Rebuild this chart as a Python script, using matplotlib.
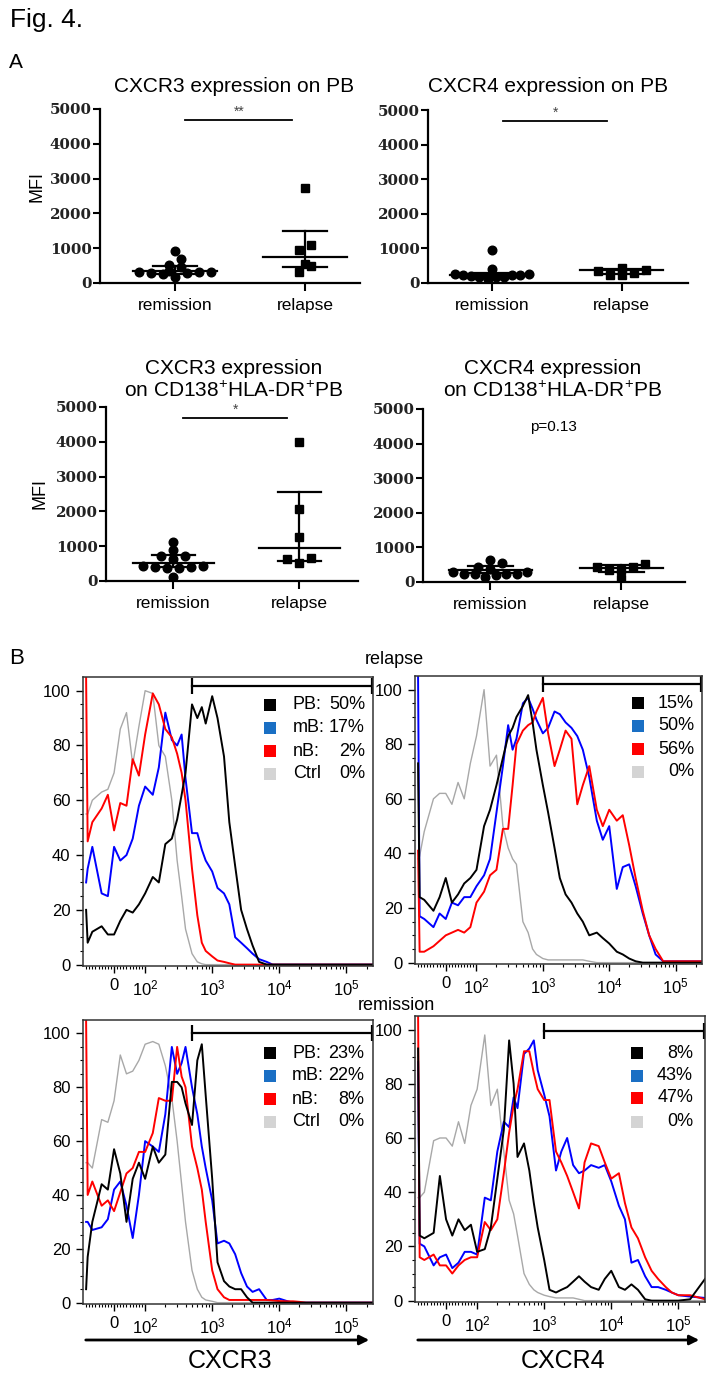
import numpy as np
import matplotlib
matplotlib.use('Agg')
import matplotlib.pyplot as plt
from matplotlib.patches import Rectangle, FancyArrowPatch

plt.rcParams['font.family'] = ['Liberation Sans', 'DejaVu Sans']
plt.rcParams['mathtext.fontset'] = 'custom'
plt.rcParams['mathtext.rm'] = 'Liberation Sans'
plt.rcParams['mathtext.it'] = 'Liberation Sans:italic'
plt.rcParams['mathtext.bf'] = 'Liberation Sans:bold'

# ---------------- Panel A data (MFI) ----------------
groups = ['remission', 'relapse']

cxcr3_pb_rem = [920, 700, 530, 450, 350, 330, 320, 310, 300, 290, 270, 175]
cxcr3_pb_rel = [2720, 1090, 960, 560, 490, 320]
cxcr4_pb_rem = [950, 400, 270, 270, 220, 220, 220, 190, 175, 175, 175, 125]
cxcr4_pb_rel = [440, 370, 350, 290, 220, 220]
cxcr3_cd_rem = [1130, 890, 720, 720, 620, 430, 430, 390, 390, 365, 365, 125]
cxcr3_cd_rel = [3990, 2060, 1275, 650, 620, 530]
cxcr4_cd_rem = [650, 550, 435, 390, 290, 290, 240, 240, 240, 240, 190, 145]
cxcr4_cd_rel = [530, 435, 435, 360, 360, 100]

# summary lines: [center, lower, upper] per group
sum_cxcr3_pb = [[346, 250, 490], [750, 460, 1500]]
sum_cxcr4_pb = [[225, 180, 300], [370, 250, 400]]
sum_cxcr3_cd = [[530, 390, 750], [960, 580, 2550]]
sum_cxcr4_cd = [[360, 250, 450], [400, 300, 480]]

sig_labels = ['**', '*', '*', 'p=0.13']

# ---------------- Panel B data (histograms, % of max) ----------------
grid = [-90, -85, -70, -40, -20, 0, 20, 40, 60, 80, 100, 130, 160, 200, 250,
        300, 350, 400, 500, 600, 700, 800, 1000, 1200, 1500, 1800, 2200, 2700,
        3300, 4000, 5000, 6500, 8000, 10000, 13000, 16000, 20000, 25000, 32000,
        40000, 50000, 65000, 80000, 100000, 150000, 250000]

# relapse, CXCR3
rel3_pb = [20, 8, 12, 14, 11, 11, 16, 20, 19, 22, 26, 32, 30, 44, 46, 53, 62, 70, 95, 90,
           94, 88, 98, 90, 76, 52, 36, 20, 13, 7, 1] + [0] * 15
rel3_mb = [30, 35, 43, 26, 25, 43, 38, 40, 46, 58, 65, 62, 72, 92, 82, 80, 84, 68, 48, 48,
           42, 38, 34, 28, 26, 22, 10, 8, 6, 4, 2, 1] + [0] * 14
rel3_nb = [105, 45, 52, 57, 62, 49, 59, 58, 75, 69, 84, 99, 95, 86, 83, 77, 70, 60, 35, 18,
           8, 5, 3, 1.5, 1, 0.5] + [0] * 20
rel3_ct = [55, 55, 60, 63, 64, 70, 86, 92, 73, 87, 100, 99, 80, 76, 60, 38, 25, 13, 4, 1,
           0.3] + [0] * 25
# relapse, CXCR4
rel4_pb = [73, 24, 23, 19, 24, 31, 22, 25, 29, 31, 34, 50, 56, 65, 75, 83, 86, 90, 94, 98,
           88, 78, 65, 55, 42, 31, 25, 22, 18, 15, 10, 11, 9, 7, 4, 3, 1.5, 0.5] + [0] * 8
rel4_mb = [105, 17, 16, 13, 18, 16, 22, 21, 24, 24, 28, 32, 38, 55, 72, 87, 78, 82, 95, 97,
           93, 89, 84, 86, 92, 91, 88, 86, 83, 78, 68, 52, 45, 50, 27, 35, 36, 28, 18, 10,
           3, 0.5, 0.5, 0.5, 0.5, 0.5]
rel4_nb = [41, 4, 4, 6, 8, 10, 11, 12, 11, 13, 22, 26, 32, 34, 49, 49, 65, 80, 85, 87,
           88, 92, 97, 84, 72, 78, 85, 82, 58, 65, 72, 56, 50, 56, 52, 54, 43, 31, 19, 10,
           5, 0.5, 0.5, 0.5, 0.5, 0.5]
rel4_ct = [38, 39, 48, 60, 62, 62, 58, 66, 60, 73, 83, 100, 72, 76, 50, 42, 38, 36, 15, 11,
           5, 3, 1.5, 1, 1, 1, 1, 1, 1, 1, 0.5] + [0] * 15
# remission, CXCR3
rem3_pb = [5, 17, 30, 44, 42, 57, 48, 30, 46, 52, 46, 58, 52, 55, 82, 82, 80, 74, 66, 90,
           96, 77, 46, 15, 8, 6, 5, 5, 2, 0] + [0] * 16
rem3_mb = [30, 30, 27, 28, 31, 42, 45, 36, 24, 40, 60, 58, 56, 70, 95, 85, 89, 95, 80, 70,
           58, 50, 38, 22, 23, 22, 18, 11, 6, 4, 5, 1, 1, 1.5, 0.6] + [0] * 11
rem3_nb = [105, 40, 45, 36, 38, 34, 41, 48, 50, 56, 56, 63, 76, 75, 75, 95, 84, 80, 58, 50,
           42, 30, 12, 5, 2, 1, 1, 1, 1, 1, 1, 1, 0.8, 0.6, 0.5, 0.5, 0.3] + [0] * 9
rem3_ct = [52, 52, 50, 68, 67, 75, 92, 85, 86, 90, 96, 97, 96, 88, 76, 60, 44, 30, 12, 5,
           2, 1, 0.5] + [0] * 23
# remission, CXCR4
rem4_pb = [93, 24, 23, 25, 46, 30, 24, 30, 26, 28, 18, 19, 27, 45, 63, 96, 80, 53, 58, 48,
           36, 27, 15, 4, 3, 4, 5, 7, 9, 7, 5, 4, 8, 11, 5, 4, 6, 4, 0.5, 0,
           0, 0, 0, 0, 0.5, 8]
rem4_mb = [88, 21, 20, 13, 16, 17, 12, 14, 18, 18, 17, 38, 37, 55, 66, 64, 75, 71, 91, 93,
           96, 85, 76, 68, 48, 55, 60, 50, 47, 48, 50, 49, 50, 44, 35, 30, 14, 15, 9, 5,
           5, 4, 3, 2, 1.5, 1]
rem4_nb = [105, 16, 15, 17, 13, 13, 10, 13, 15, 16, 16, 29, 26, 30, 47, 62, 72, 78, 92, 92,
           84, 78, 74, 74, 55, 51, 46, 40, 34, 51, 58, 57, 51, 45, 47, 36, 27, 23, 16, 11,
           8, 5, 3, 2, 2, 0.5]
rem4_ct = [38, 38, 40, 59, 60, 60, 57, 66, 58, 72, 78, 98, 72, 78, 55, 37, 32, 24, 10, 6,
           4, 3, 2, 1.5, 1, 1, 1, 1, 0.5] + [0] * 17

leg_rows = ['PB:', 'mB:', 'nB:', 'Ctrl']
pct_rel3 = ['50%', '17%', '2%', '0%']
pct_rel4 = ['15%', '50%', '56%', '0%']
pct_rem3 = ['23%', '22%', '8%', '0%']
pct_rem4 = ['8%', '43%', '47%', '0%']
gate_left = [500, 1000, 500, 1000]
gate_y = [101.7, 102, 100, 99.5]

# ---------------- figure ----------------
W, H = 713, 1378
fig = plt.figure(figsize=(W / 100, H / 100), dpi=100)


def rect(l, t, r, b):
    return [l / W, 1 - b / H, (r - l) / W, (b - t) / H]


def ftext(x, y, s, **kw):
    fig.text(x / W, 1 - y / H, s, **kw)


ftext(10, 20, 'Fig. 4.', fontsize=19, va='center', ha='left')
ftext(9, 62, 'A', fontsize=15, va='center', ha='left')
ftext(9, 658, 'B', fontsize=16, va='center', ha='left')


def row_offsets(vals, ppy, ppx, dcol=12.0, drow=6.0, maxspan=74.0):
    """GraphPad-like scatter: points with close values share a row, spread evenly,
    filled from the centre outwards."""
    vals = np.asarray(vals, float)
    order = np.argsort(vals, kind='stable')
    offs = np.zeros(len(vals))
    i = 0
    while i < len(order):
        start = vals[order[i]]
        row = [order[i]]
        j = i + 1
        while j < len(order) and (vals[order[j]] - start) * ppy < drow:
            row.append(order[j])
            j += 1
        n = len(row)
        sp = dcol if n <= 1 else min(dcol, maxspan / (n - 1))
        slots = [(k - (n - 1) / 2.0) * sp for k in range(n)]
        slots.sort(key=lambda p: (abs(p), p))
        for idx, p in zip(row, slots):
            offs[idx] = p
        i = j
    return offs / ppx


def scatter_panel(px_rect, xl, rem, rel, summ, sig, sigx, sigy):
    l, t, r, b = px_rect
    ax = fig.add_axes(rect(*px_rect))
    ax.set_xlim(xl, xl + 2)
    ax.set_ylim(0, 5000)
    ppy = (b - t) / 5000.0
    ppx = (r - l) / 2.0
    for gi, (vals, mk, ms) in enumerate([(rem, 'o', 6.2), (rel, 's', 5.8)]):
        offs = row_offsets(vals, ppy, ppx)
        ax.plot(gi + offs, vals, ls='none', marker=mk, ms=ms, color='black', zorder=3)
        c, lo, hi = summ[gi]
        ax.plot([gi - 0.32, gi + 0.32], [c, c], color='black', lw=1.6, zorder=4)
        ax.plot([gi - 0.17, gi + 0.17], [lo, lo], color='black', lw=1.6, zorder=4)
        ax.plot([gi - 0.17, gi + 0.17], [hi, hi], color='black', lw=1.6, zorder=4)
        ax.plot([gi, gi], [lo, hi], color='black', lw=1.6, zorder=4)
    for s in ['top', 'right']:
        ax.spines[s].set_visible(False)
    for s in ['left', 'bottom']:
        ax.spines[s].set_linewidth(1.6)
    ax.set_xticks([0, 1])
    ax.set_xticklabels(groups, fontsize=12.5)
    ax.set_yticks([0, 1000, 2000, 3000, 4000, 5000])
    ax.tick_params(axis='x', length=6, width=1.5, pad=5)
    ax.tick_params(axis='y', length=5, width=1.5, pad=1)
    for lab in ax.get_yticklabels():
        lab.set_fontfamily('DejaVu Serif')
        lab.set_fontweight('bold')
        lab.set_fontsize(10.8)
        lab.set_color('#222222')
    if sig.startswith('p'):
        ax.text(0.48, 4480, sig, ha='center', va='center', fontsize=11)
    else:
        ax.plot(sigx, [sigy, sigy], color='black', lw=1.3)
        ax.text(np.mean(sigx), sigy + 230, sig, ha='center', va='center',
                fontsize=10, color='#444444')
    return ax


ax1 = scatter_panel((100, 109, 360, 283), -0.577, cxcr3_pb_rem, cxcr3_pb_rel, sum_cxcr3_pb,
                    sig_labels[0], [0.08, 0.9], 4690)
ax2 = scatter_panel((428, 110, 688, 283), -0.49, cxcr4_pb_rem, cxcr4_pb_rel, sum_cxcr4_pb,
                    sig_labels[1], [0.085, 0.89], 4690)
ax3 = scatter_panel((106, 407, 358, 581), -0.535, cxcr3_cd_rem, cxcr3_cd_rel, sum_cxcr3_cd,
                    sig_labels[2], [0.08, 0.9], 4690)
ax4 = scatter_panel((423, 409, 685, 582), -0.515, cxcr4_cd_rem, cxcr4_cd_rel, sum_cxcr4_cd,
                    sig_labels[3], None, None)

ftext(234, 86, 'CXCR3 expression on PB', fontsize=15, ha='center', va='center')
ftext(548, 86, 'CXCR4 expression on PB', fontsize=15, ha='center', va='center')
sup = r'$\mathregular{^{+}}$'
ftext(234, 380, 'CXCR3 expression\non CD138' + sup + 'HLA-DR' + sup + 'PB', fontsize=15,
      ha='center', va='center', linespacing=1.15)
ftext(553, 380, 'CXCR4 expression\non CD138' + sup + 'HLA-DR' + sup + 'PB', fontsize=15,
      ha='center', va='center', linespacing=1.15)
ftext(37, 187, 'MFI', fontsize=13, rotation=90, ha='center', va='center')
ftext(40, 493, 'MFI', fontsize=13, rotation=90, ha='center', va='center')

# ---------------- Panel B ----------------
col_pb, col_mb, col_nb, col_ct = 'black', '#0000ff', '#ff0000', '#a8a8a8'
leg_cols = ['black', '#1a6fc4', '#ff0000', '#d4d4d4']
xt = [0, 1e2, 1e3, 1e4, 1e5]
xtl = ['0', r'$\mathregular{10^2}$', r'$\mathregular{10^3}$', r'$\mathregular{10^4}$',
       r'$\mathregular{10^5}$']
minor_x = ([-90, -80, -70, -60, -50, -40, -30, -20, -10, 10, 20, 30, 40, 50, 60, 70, 80, 90]
           + [k * 100 for k in range(2, 10)] + [k * 1000 for k in range(2, 10)]
           + [k * 10000 for k in range(2, 10)] + [200000])


def hist_panel(px_rect, curves, gi):
    ax = fig.add_axes(rect(*px_rect))
    ax.set_xscale('symlog', linthresh=100, linscale=0.417)
    pb, mb, nb, ct = curves
    ax.plot(grid, ct, color=col_ct, lw=1.0)
    ax.plot(grid, mb, color=col_mb, lw=1.4)
    ax.plot(grid, nb, color=col_nb, lw=1.4)
    ax.plot(grid, pb, color=col_pb, lw=1.4)
    ax.set_xlim(-100, 250000)
    ax.set_ylim(-0.5, 105)
    ax.set_xticks(xt)
    ax.set_xticklabels(xtl, fontsize=12)
    ax.set_xticks(minor_x, minor=True)
    ax.set_yticks([0, 20, 40, 60, 80, 100])
    ax.set_yticklabels(['0', '20', '40', '60', '80', '100'], fontsize=12)
    ax.set_yticks(np.arange(0, 105, 5), minor=True)
    ax.tick_params(which='major', length=5, width=1.0, pad=4)
    ax.tick_params(which='minor', length=2.5, width=0.8)
    for s in ax.spines.values():
        s.set_linewidth(1.1)
        s.set_color('#333333')
    ax.plot([gate_left[gi], 245000], [gate_y[gi], gate_y[gi]], color='black', lw=1.6,
            marker='|', ms=11, mew=1.6)
    return ax


h1 = hist_panel((83, 677, 373, 966), [rel3_pb, rel3_mb, rel3_nb, rel3_ct], 0)
h2 = hist_panel((415, 676, 702, 964), [rel4_pb, rel4_mb, rel4_nb, rel4_ct], 1)
h3 = hist_panel((83, 1020, 373, 1304), [rem3_pb, rem3_mb, rem3_nb, rem3_ct], 2)
h4 = hist_panel((415, 1016, 705, 1302), [rem4_pb, rem4_mb, rem4_nb, rem4_ct], 3)


def legend(sq_x, rows, pcts, label_x=None, pct_r=None):
    sz = 12.5
    for i, y in enumerate(rows):
        fig.add_artist(Rectangle(((sq_x - sz / 2) / W, 1 - (y + sz / 2) / H), sz / W, sz / H,
                                 transform=fig.transFigure, color=leg_cols[i], lw=0))
        if label_x is not None:
            ftext(label_x, y, leg_rows[i], fontsize=13, ha='left', va='center')
        ftext(pct_r, y, pcts[i], fontsize=13, ha='right', va='center')


legend(270, [705, 728, 751, 774], pct_rel3, 293, 365)
legend(638, [703, 726, 749, 772], pct_rel4, None, 694)
legend(270, [1053, 1076, 1099, 1122], pct_rem3, 292, 364)
legend(637, [1053, 1076, 1098, 1122], pct_rem4, None, 693)

ftext(394, 660, 'relapse', fontsize=13, ha='center', va='center')
ftext(396, 1005, 'remission', fontsize=13, ha='center', va='center')

for (x0, x1) in [(83, 372), (415, 702)]:
    fig.add_artist(FancyArrowPatch(
        (x0 / W, 1 - 1340 / H), (x1 / W, 1 - 1340 / H), transform=fig.transFigure,
        arrowstyle='-|>', mutation_scale=14, lw=2, color='black'))
ftext(230, 1361, 'CXCR3', fontsize=18, ha='center', va='center')
ftext(563, 1361, 'CXCR4', fontsize=18, ha='center', va='center')

fig.savefig('out.png', dpi=100)
